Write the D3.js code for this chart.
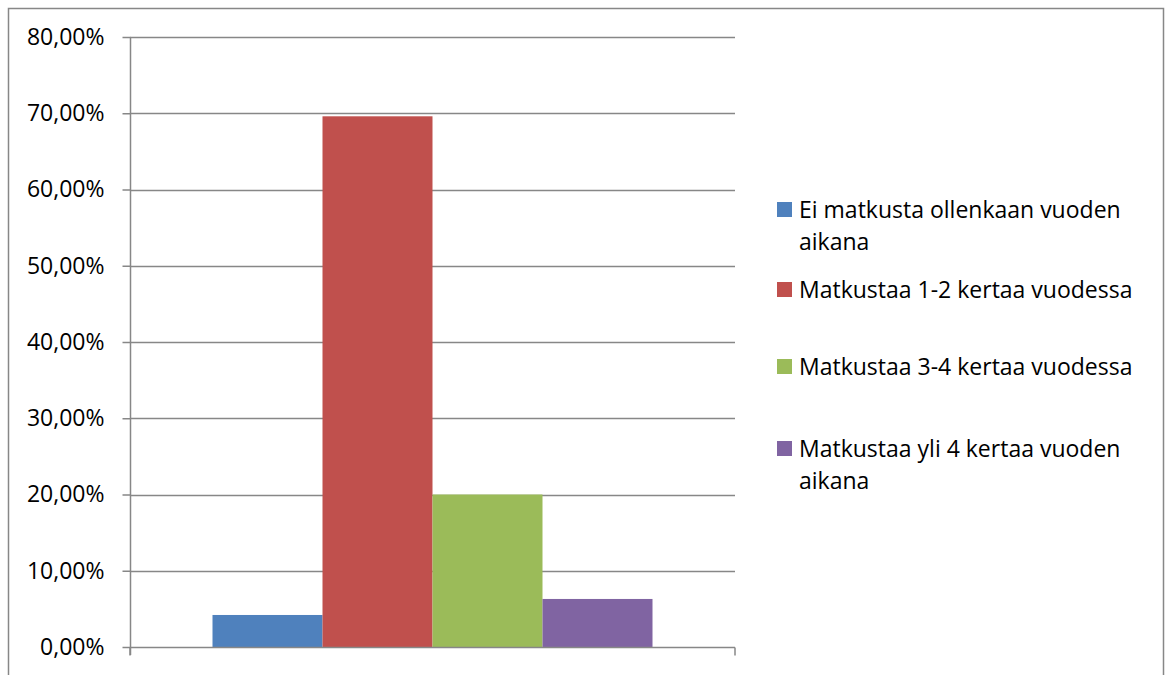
<!DOCTYPE html>
<html>
<head>
<meta charset="utf-8">
<script src="https://cdn.jsdelivr.net/npm/d3@7"></script>
<style>
  html, body { margin: 0; padding: 0; background: #fff; }
  svg { display: block; font-family: "Open Sans", "Liberation Sans", sans-serif; }
</style>
</head>
<body>
<svg id="chart" width="1168" height="675"></svg>
<script>
// Share of respondents by travel frequency
const categories = [
  "Ei matkusta ollenkaan vuoden aikana",
  "Matkustaa 1-2 kertaa vuodessa",
  "Matkustaa 3-4 kertaa vuodessa",
  "Matkustaa yli 4 kertaa vuoden aikana"
];
const values = [0.042, 0.696, 0.200, 0.063];
const colors = ["#4f81bd", "#c0504d", "#9bbb59", "#8064a2"];
const legendLines = [
  ["Ei matkusta ollenkaan vuoden", "aikana"],
  ["Matkustaa 1-2 kertaa vuodessa"],
  ["Matkustaa 3-4 kertaa vuodessa"],
  ["Matkustaa yli 4 kertaa vuoden", "aikana"]
];
const yTicks = [0, 0.1, 0.2, 0.3, 0.4, 0.5, 0.6, 0.7, 0.8];

const svg = d3.select("#chart");
const gridColor = "#878787";
const fontSize = 23;

// outer chart frame (bottom edge runs past the visible area)
svg.append("rect")
  .attr("x", 8.5).attr("y", 8.5)
  .attr("width", 1155).attr("height", 700)
  .attr("fill", "none").attr("stroke", gridColor).attr("stroke-width", 1.5);

const plot = { left: 130, right: 735, top: 37, bottom: 647 };

const y = d3.scaleLinear().domain([0, 0.8]).range([plot.bottom, plot.top]);
// a single category slot holding the four series side by side
const xOuter = d3.scaleBand().domain(["all"]).range([plot.left, plot.right]).paddingInner(0).paddingOuter(0);
const x = d3.scaleBand().domain(categories)
  .range([xOuter("all"), xOuter("all") + xOuter.bandwidth()])
  .paddingOuter(0.75).paddingInner(0);

// horizontal gridlines
svg.append("g")
  .selectAll("line")
  .data(yTicks.filter(d => d > 0))
  .join("line")
  .attr("x1", plot.left).attr("x2", plot.right)
  .attr("y1", d => Math.round(y(d)) + 0.5).attr("y2", d => Math.round(y(d)) + 0.5)
  .attr("stroke", gridColor).attr("stroke-width", 1.5);

// bars
svg.append("g")
  .selectAll("rect")
  .data(values)
  .join("rect")
  .attr("x", (d, i) => x(categories[i]))
  .attr("width", x.bandwidth())
  .attr("y", d => y(d))
  .attr("height", d => y(0) - y(d))
  .attr("fill", (d, i) => colors[i]);

// value axis
const fmt = d => d3.format(".2f")(d * 100).replace(".", ",") + "%";
const yAxis = svg.append("g")
  .attr("transform", `translate(${plot.left + 0.5},0)`)
  .call(d3.axisLeft(y).tickValues(yTicks).tickFormat(fmt).tickSize(8).tickPadding(18));
yAxis.select(".domain").attr("stroke", gridColor).attr("stroke-width", 1.5)
  .attr("d", `M0,${plot.top}V${plot.bottom + 8}`);
yAxis.selectAll(".tick line").attr("stroke", gridColor).attr("stroke-width", 1.5);
yAxis.selectAll(".tick text")
  .attr("fill", "#000").attr("font-size", fontSize).attr("font-family", "'Open Sans', sans-serif");

// category axis with end tick marks
const xAxis = svg.append("g")
  .attr("transform", `translate(0,${plot.bottom + 0.5})`);
xAxis.append("line")
  .attr("x1", plot.left).attr("x2", plot.right)
  .attr("stroke", gridColor).attr("stroke-width", 1.5);
xAxis.selectAll("line.tick")
  .data([plot.left, plot.right])
  .join("line").attr("class", "tick")
  .attr("x1", d => d).attr("x2", d => d)
  .attr("y1", 0).attr("y2", 8)
  .attr("stroke", gridColor).attr("stroke-width", 1.5);

// legend
const legendY = [210, 290, 367, 449];
const legend = svg.append("g");
categories.forEach((c, i) => {
  const g = legend.append("g").attr("transform", `translate(777,${legendY[i]})`);
  g.append("rect").attr("x", 0).attr("y", -8).attr("width", 15).attr("height", 15).attr("fill", colors[i]);
  const t = g.append("text").attr("x", 22).attr("y", 0)
    .attr("font-size", fontSize).attr("fill", "#000");
  legendLines[i].forEach((line, j) => {
    t.append("tspan").attr("x", 22).attr("dy", j === 0 ? "0.35em" : 32).text(line);
  });
});
</script>
</body>
</html>
